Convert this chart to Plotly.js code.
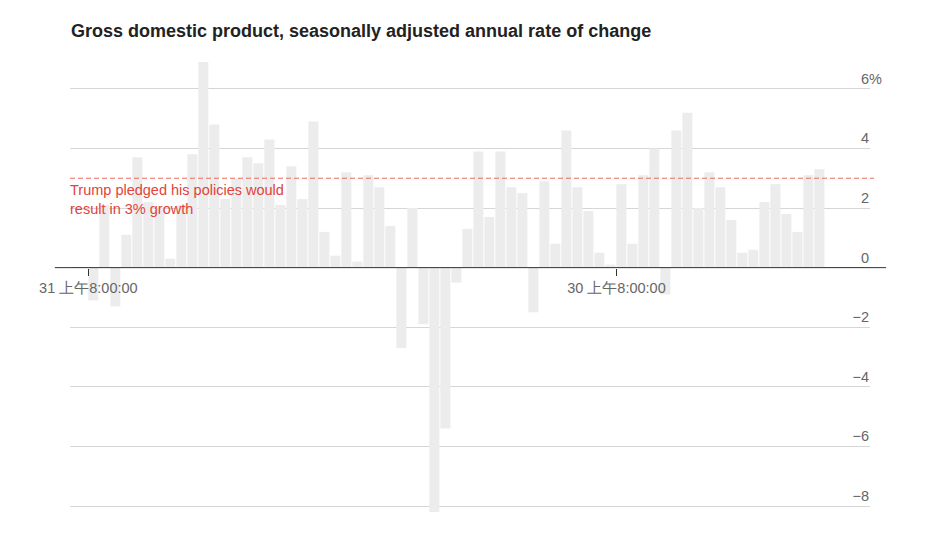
<!DOCTYPE html>
<html>
<head>
<meta charset="utf-8">
<script src="https://cdn.plot.ly/plotly-3.0.1.min.js"></script>
<style>
  html, body { margin: 0; padding: 0; background: #fff; }
  #chart { width: 929px; height: 538px; }
</style>
</head>
<body>
<div id="chart"></div>
<script>
// Quarterly GDP, seasonally adjusted annual rate of change (%), 2001 Q1 – 2017 Q3
const quarters = [
  "2001Q1","2001Q2","2001Q3","2001Q4",
  "2002Q1","2002Q2","2002Q3","2002Q4",
  "2003Q1","2003Q2","2003Q3","2003Q4",
  "2004Q1","2004Q2","2004Q3","2004Q4",
  "2005Q1","2005Q2","2005Q3","2005Q4",
  "2006Q1","2006Q2","2006Q3","2006Q4",
  "2007Q1","2007Q2","2007Q3","2007Q4",
  "2008Q1","2008Q2","2008Q3","2008Q4",
  "2009Q1","2009Q2","2009Q3","2009Q4",
  "2010Q1","2010Q2","2010Q3","2010Q4",
  "2011Q1","2011Q2","2011Q3","2011Q4",
  "2012Q1","2012Q2","2012Q3","2012Q4",
  "2013Q1","2013Q2","2013Q3","2013Q4",
  "2014Q1","2014Q2","2014Q3","2014Q4",
  "2015Q1","2015Q2","2015Q3","2015Q4",
  "2016Q1","2016Q2","2016Q3","2016Q4",
  "2017Q1","2017Q2","2017Q3"
];
const growth = [
  -1.1, 2.1, -1.3, 1.1,
  3.7, 2.2, 2.0, 0.3,
  2.1, 3.8, 6.9, 4.8,
  2.3, 3.0, 3.7, 3.5,
  4.3, 2.1, 3.4, 2.3,
  4.9, 1.2, 0.4, 3.2,
  0.2, 3.1, 2.7, 1.4,
  -2.7, 2.0, -1.9, -8.2,
  -5.4, -0.5, 1.3, 3.9,
  1.7, 3.9, 2.7, 2.5,
  -1.5, 2.9, 0.8, 4.6,
  2.7, 1.9, 0.5, 0.1,
  2.8, 0.8, 3.1, 4.0,
  -0.9, 4.6, 5.2, 2.0,
  3.2, 2.7, 1.6, 0.5,
  0.6, 2.2, 2.8, 1.8,
  1.2, 3.1, 3.3
];
// x tick positions (quarter index) and labels
const xTickVals = [-0.45, 47.55];
const xTickText = ["31 上午8:00:00", "30 上午8:00:00"];
const yTickVals = [-8, -6, -4, -2, 0, 2, 4, 6];
const yTickNums = ["\u22128", "\u22126", "\u22124", "\u22122", "0", "2", "4", "6"];
const pledge = 3;
const pledgeText = "Trump pledged his policies would<br>result in 3% growth";
const titleText = "Gross domestic product, seasonally adjusted annual rate of change";

const xIdx = quarters.map((q, i) => i);
const yRange = [-8.3, 7.0];
// only the top label shows the % sign; the others keep an invisible one so numbers right-align
const yTickText = yTickNums.map((t, i) =>
  i === yTickNums.length - 1 ? t + "%" : t + "<span style='color:rgba(0,0,0,0)'>%</span>");

const trace = {
  type: "bar",
  x: xIdx,
  y: growth,
  text: quarters,
  hoverinfo: "text+y",
  marker: { color: "#ececec", line: { width: 0 } },
  textposition: "none"
};

const layout = {
  width: 929,
  height: 538,
  paper_bgcolor: "#ffffff",
  plot_bgcolor: "#ffffff",
  margin: { l: 70, r: 59, t: 59, b: 23 },
  bargap: 0.09,
  showlegend: false,
  font: { family: "Liberation Sans, Arial, sans-serif", color: "#666" },
  title: {
    text: "<b>" + titleText + "</b>",
    xref: "container", yref: "container",
    x: 71 / 929, xanchor: "left",
    y: 1 - 31 / 538, yanchor: "middle",
    font: { size: 18, color: "#222", family: "Liberation Sans, Arial, sans-serif" }
  },
  xaxis: {
    range: [-2.12, 70.6],
    anchor: "free",
    position: (0 - yRange[0]) / (yRange[1] - yRange[0]),
    tickmode: "array",
    tickvals: xTickVals,
    ticktext: xTickText,
    ticks: "outside",
    ticklen: 7,
    tickwidth: 1,
    tickcolor: "#333",
    showgrid: false,
    showline: false,
    zeroline: false,
    tickfont: { size: 14.5, color: "#666" },
    fixedrange: true
  },
  yaxis: {
    range: yRange,
    side: "right",
    tickmode: "array",
    tickvals: yTickVals,
    ticktext: yTickText,
    ticklabelposition: "inside top",
    ticklabelstandoff: -15,
    ticks: "",
    showgrid: true,
    gridcolor: "#d6d6d6",
    gridwidth: 1,
    zeroline: false,
    showline: false,
    tickfont: { size: 14.5, color: "#666" },
    fixedrange: true
  },
  shapes: [
    {
      type: "line", xref: "paper", yref: "y",
      x0: -0.019, x1: 1.02, y0: 0, y1: 0,
      line: { color: "#333", width: 1 }
    },
    {
      type: "line", xref: "paper", yref: "y",
      x0: 0, x1: 1.005, y0: pledge, y1: pledge,
      line: { color: "#ef6a5e", width: 1, dash: "5px,3px" }
    }
  ],
  annotations: [
    {
      text: pledgeText,
      xref: "paper", yref: "y",
      x: 0, y: pledge,
      xanchor: "left", yanchor: "top",
      xshift: -2,
      yshift: -2,
      align: "left",
      showarrow: false,
      font: { size: 14.5, color: "#e2433a", family: "Liberation Sans, Arial, sans-serif" }
    }
  ]
};

Plotly.newPlot("chart", [trace], layout, { displayModeBar: false, staticPlot: true });
</script>
</body>
</html>
